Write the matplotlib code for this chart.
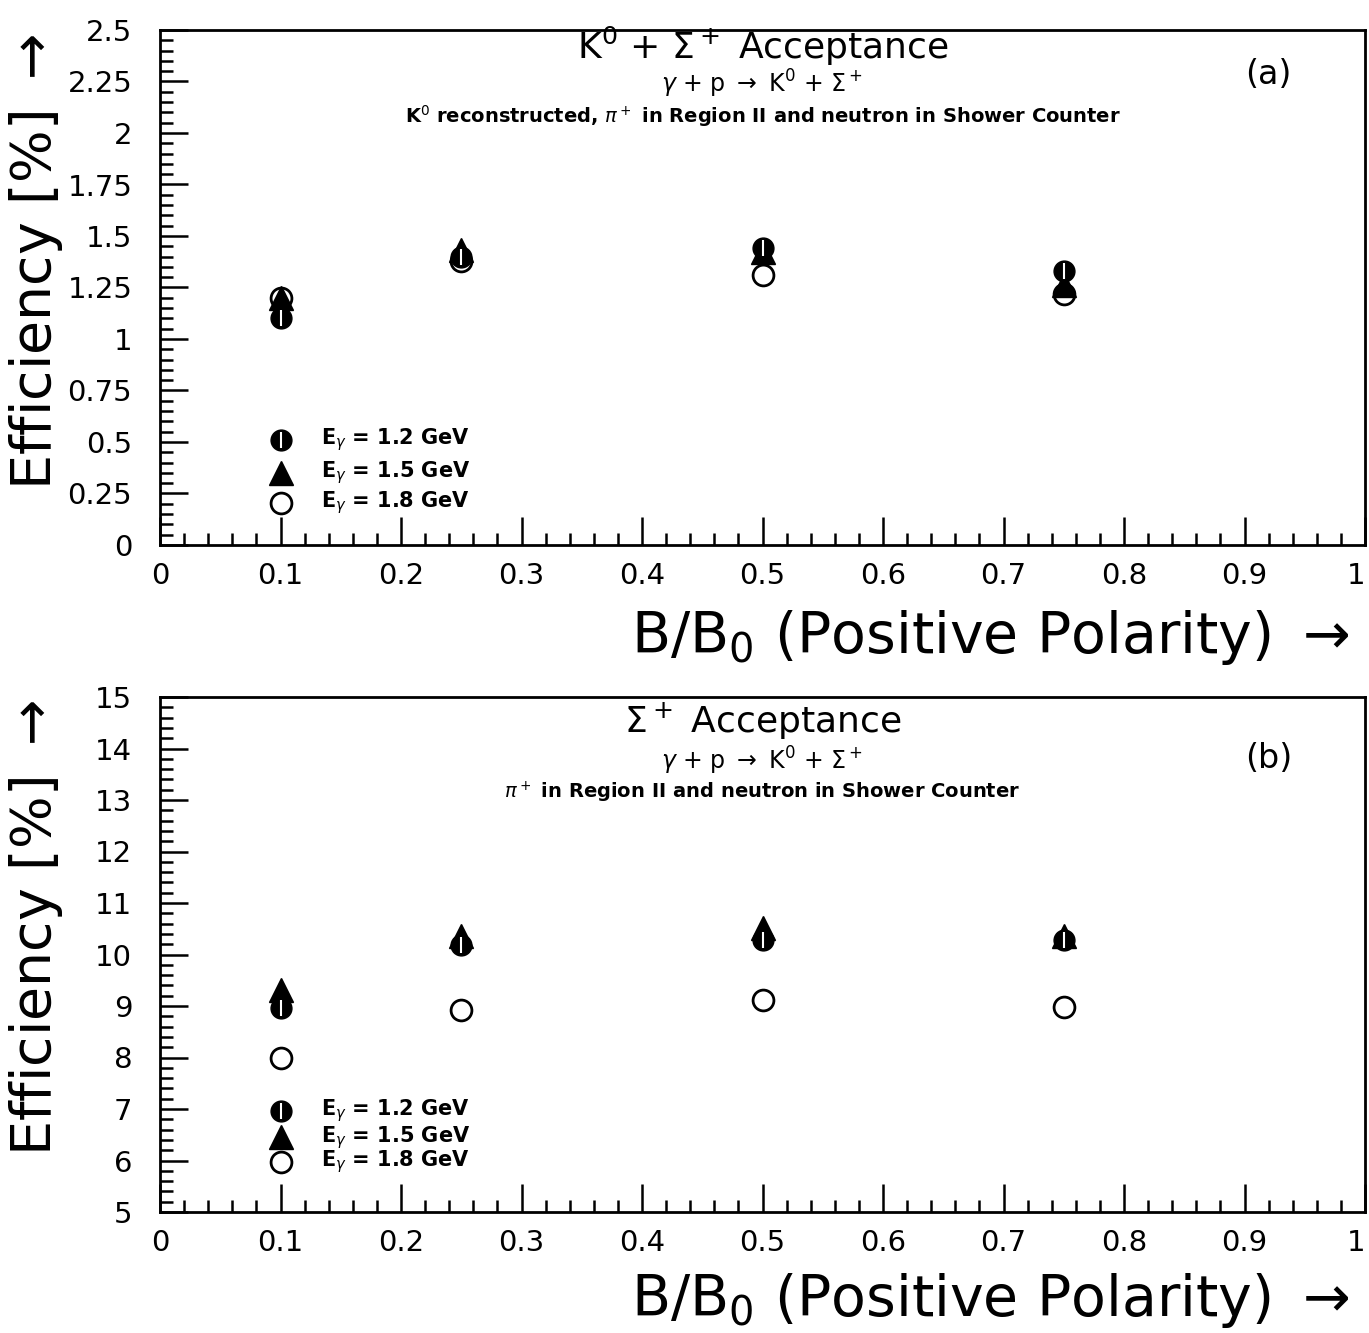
import numpy as np
import matplotlib.pyplot as plt
from matplotlib.ticker import MultipleLocator

plt.rcParams['font.family'] = ['DejaVu Sans']
plt.rcParams['mathtext.fontset'] = 'dejavusans'

# field ratio B/B0
bfield = [0.1, 0.25, 0.5, 0.75]

# (a) K0 + Sigma+ acceptance [%]
eff_a_12 = [1.10, 1.40, 1.44, 1.33]
eff_a_15 = [1.20, 1.43, 1.42, 1.26]
eff_a_18 = [1.20, 1.38, 1.31, 1.22]

# (b) Sigma+ acceptance [%]
eff_b_12 = [8.97, 10.18, 10.28, 10.28]
eff_b_15 = [9.31, 10.36, 10.51, 10.36]
eff_b_18 = [7.99, 8.92, 9.12, 8.98]

energies = ['1.2', '1.5', '1.8']
xticks = [0, 0.1, 0.2, 0.3, 0.4, 0.5, 0.6, 0.7, 0.8, 0.9, 1]
xticklabels = ['0', '0.1', '0.2', '0.3', '0.4', '0.5', '0.6', '0.7', '0.8', '0.9', '1']
yticks_a = [0, 0.25, 0.5, 0.75, 1, 1.25, 1.5, 1.75, 2, 2.25, 2.5]
yticklabels_a = ['0', '0.25', '0.5', '0.75', '1', '1.25', '1.5', '1.75', '2', '2.25', '2.5']
yticks_b = list(range(5, 16))

fig = plt.figure(figsize=(13.69, 13.33), dpi=100)
W, H = 1369, 1333

def px(x0, y0, x1, y1):
    return [x0 / W, 1 - y1 / H, (x1 - x0) / W, (y1 - y0) / H]

ax1 = fig.add_axes(px(160, 30, 1365, 545))
ax2 = fig.add_axes(px(160, 697, 1365, 1212))


def draw_markers(ax, x, y12, y15, y18):
    ax.plot(x, y18, 'o', ms=15, mfc='white', mec='black', mew=2, zorder=3)
    ax.plot(x, y15, '^', ms=17, mfc='black', mec='black', zorder=4)
    ax.plot(x, y12, 'o', ms=15, mfc='black', mec='black', zorder=5)
    ax.plot(x, y12, '|', ms=11, mec='white', mew=1.5, zorder=6)


def style_axis(ax, yticks, ylabels, ymin, ymax, yminor):
    ax.set_xlim(0, 1)
    ax.set_ylim(ymin, ymax)
    ax.set_xticks(xticks)
    ax.set_xticklabels(xticklabels)
    ax.get_xticklabels()[-1].set_horizontalalignment('right')
    ax.set_yticks(yticks)
    ax.set_yticklabels(ylabels)
    ax.xaxis.set_minor_locator(MultipleLocator(0.02))
    ax.yaxis.set_minor_locator(MultipleLocator(yminor))
    ax.tick_params(which='both', direction='in', top=False, right=False,
                   width=1.8, labelsize=21)
    ax.tick_params(which='major', length=20)
    ax.tick_params(which='minor', length=9)
    ax.tick_params(axis='x', pad=12)
    ax.tick_params(axis='y', pad=20)
    for s in ax.spines.values():
        s.set_linewidth(2)


def legend_rows(ax, ys, msize=15):
    kinds = ['o', '^', 'open']
    for y, e, k in zip(ys, energies, kinds):
        if k == 'o':
            ax.plot([0.1], [y], 'o', ms=msize, mfc='black', mec='black')
            ax.plot([0.1], [y], '|', ms=11, mec='white', mew=1.5)
        elif k == '^':
            ax.plot([0.1], [y], '^', ms=17, mfc='black', mec='black')
        else:
            ax.plot([0.1], [y], 'o', ms=msize, mfc='white', mec='black', mew=2)
        ax.text(0.134, y, r'E$_\gamma$ = ' + e + ' GeV', fontsize=15,
                fontweight='bold', va='center', ha='left')


def titles(ax, t1, t3, tag, ys):
    ax.text(0.5, ys[0], t1, transform=ax.transAxes, ha='center', va='center', fontsize=26)
    ax.text(0.5, ys[1], r'$\gamma$ + p $\rightarrow$ K$^0$ + $\Sigma^+$', transform=ax.transAxes,
            ha='center', va='center', fontsize=17)
    ax.text(0.5, ys[2], t3, transform=ax.transAxes, ha='center', va='center',
            fontsize=14, fontweight='bold')
    ax.text(0.92, ys[3], tag, transform=ax.transAxes, ha='center', va='center', fontsize=24)


# panel (a)
draw_markers(ax1, bfield, eff_a_12, eff_a_15, eff_a_18)
style_axis(ax1, yticks_a, yticklabels_a, 0, 2.5, 0.05)
legend_rows(ax1, [0.51, 0.35, 0.205])
titles(ax1, r'K$^0$ + $\Sigma^+$ Acceptance',
       r'K$^0$ reconstructed, $\pi^+$ in Region II and neutron in Shower Counter',
       '(a)', [0.968, 0.895, 0.832, 0.913])

# panel (b)
draw_markers(ax2, bfield, eff_b_12, eff_b_15, eff_b_18)
style_axis(ax2, yticks_b, [str(v) for v in yticks_b], 5, 15, 0.2)
legend_rows(ax2, [6.97, 6.45, 5.97])
titles(ax2, r'$\Sigma^+$ Acceptance',
       r'$\pi^+$ in Region II and neutron in Shower Counter',
       '(b)', [0.953, 0.876, 0.815, 0.88])

# axis titles
for yl in [637, 1300]:
    fig.text(1350 / W, 1 - yl / H, r'B/B$_0$ (Positive Polarity) $\rightarrow$',
             ha='right', va='center', fontsize=41)
for ymid in [262, 928]:
    fig.text(36 / W, 1 - ymid / H, r'Efficiency [%] $\rightarrow$', rotation=90,
             ha='center', va='center', fontsize=40)

fig.savefig('out.png', dpi=100)
